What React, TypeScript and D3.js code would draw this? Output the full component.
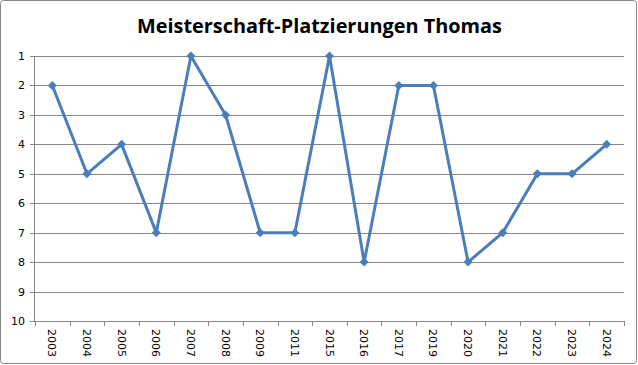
import React from "react";
import * as d3 from "d3";

const years = ["2003","2004","2005","2006","2007","2008","2009","2011","2015","2016","2017","2019","2020","2021","2022","2023","2024"];
const placements = [2,5,4,7,1,3,7,7,1,8,2,2,8,7,5,5,4];
const yTicks = [1,2,3,4,5,6,7,8,9,10];
const title = "Meisterschaft-Platzierungen Thomas";

const W = 638, H = 365;
const left = 35, right = 624, top = 56, bottom = 321;

export default function App() {
  const x = d3.scaleBand<string>().domain(years).range([left, right]);
  const y = d3.scaleLinear().domain([1, 10]).range([top, bottom]);
  const line = d3.line<number>()
    .x((_, i) => (x(years[i]) as number) + x.bandwidth() / 2)
    .y((d) => y(d));
  const grid = "#868686";
  const blue = "#4A7EBB";
  const boundaries = years.map((yr) => x(yr) as number).concat([right]);
  return (
    <svg width={W} height={H} style={{ position: "absolute", left: 0, top: 0 }}>
      <rect x={0.5} y={0.5} width={636} height={363} rx={3} fill="#fff" stroke={grid} strokeWidth={1} />
      <text x={319.5} y={33} textAnchor="middle" fontFamily="'Open Sans', 'DejaVu Sans', sans-serif" fontWeight="bold" fontSize={19} textLength={365} lengthAdjust="spacingAndGlyphs" fill="#000">{title}</text>
      {yTicks.map((t) => (
        <g key={t}>
          {t !== 10 && <line x1={left} x2={right} y1={Math.round(y(t)) + 0.5} y2={Math.round(y(t)) + 0.5} stroke={grid} strokeWidth={1} />}
          <line x1={left - 5} x2={left} y1={Math.round(y(t)) + 0.5} y2={Math.round(y(t)) + 0.5} stroke={grid} strokeWidth={1} />
          <text x={25} y={y(t) + 4} textAnchor="end" fontFamily="'DejaVu Sans', Verdana, sans-serif" fontSize={11} fill="#000">{t}</text>
        </g>
      ))}
      <line x1={left - 0.5} x2={left - 0.5} y1={top} y2={bottom + 0.5} stroke={grid} strokeWidth={1} />
      <line x1={left} x2={right} y1={bottom + 0.5} y2={bottom + 0.5} stroke={grid} strokeWidth={1} />
      {boundaries.map((bx, i) => (
        <line key={i} x1={Math.round(bx) + 0.5} x2={Math.round(bx) + 0.5} y1={bottom} y2={bottom + 5} stroke={grid} strokeWidth={1} />
      ))}
      {years.map((yr) => {
        const cx = (x(yr) as number) + x.bandwidth() / 2;
        return (
          <text key={yr} transform={`translate(${cx - 4},${329}) rotate(90)`} fontFamily="'DejaVu Sans', Verdana, sans-serif" fontSize={11} fill="#000">{yr}</text>
        );
      })}
      <path d={line(placements) || ""} fill="none" stroke={blue} strokeWidth={3} strokeLinejoin="round" />
      {placements.map((v, i) => {
        const cx = (x(years[i]) as number) + x.bandwidth() / 2;
        const cy = y(v);
        return <path key={i} d={`M${cx},${cy - 4.5}L${cx + 4.5},${cy}L${cx},${cy + 4.5}L${cx - 4.5},${cy}Z`} fill={blue} />;
      })}
    </svg>
  );
}
